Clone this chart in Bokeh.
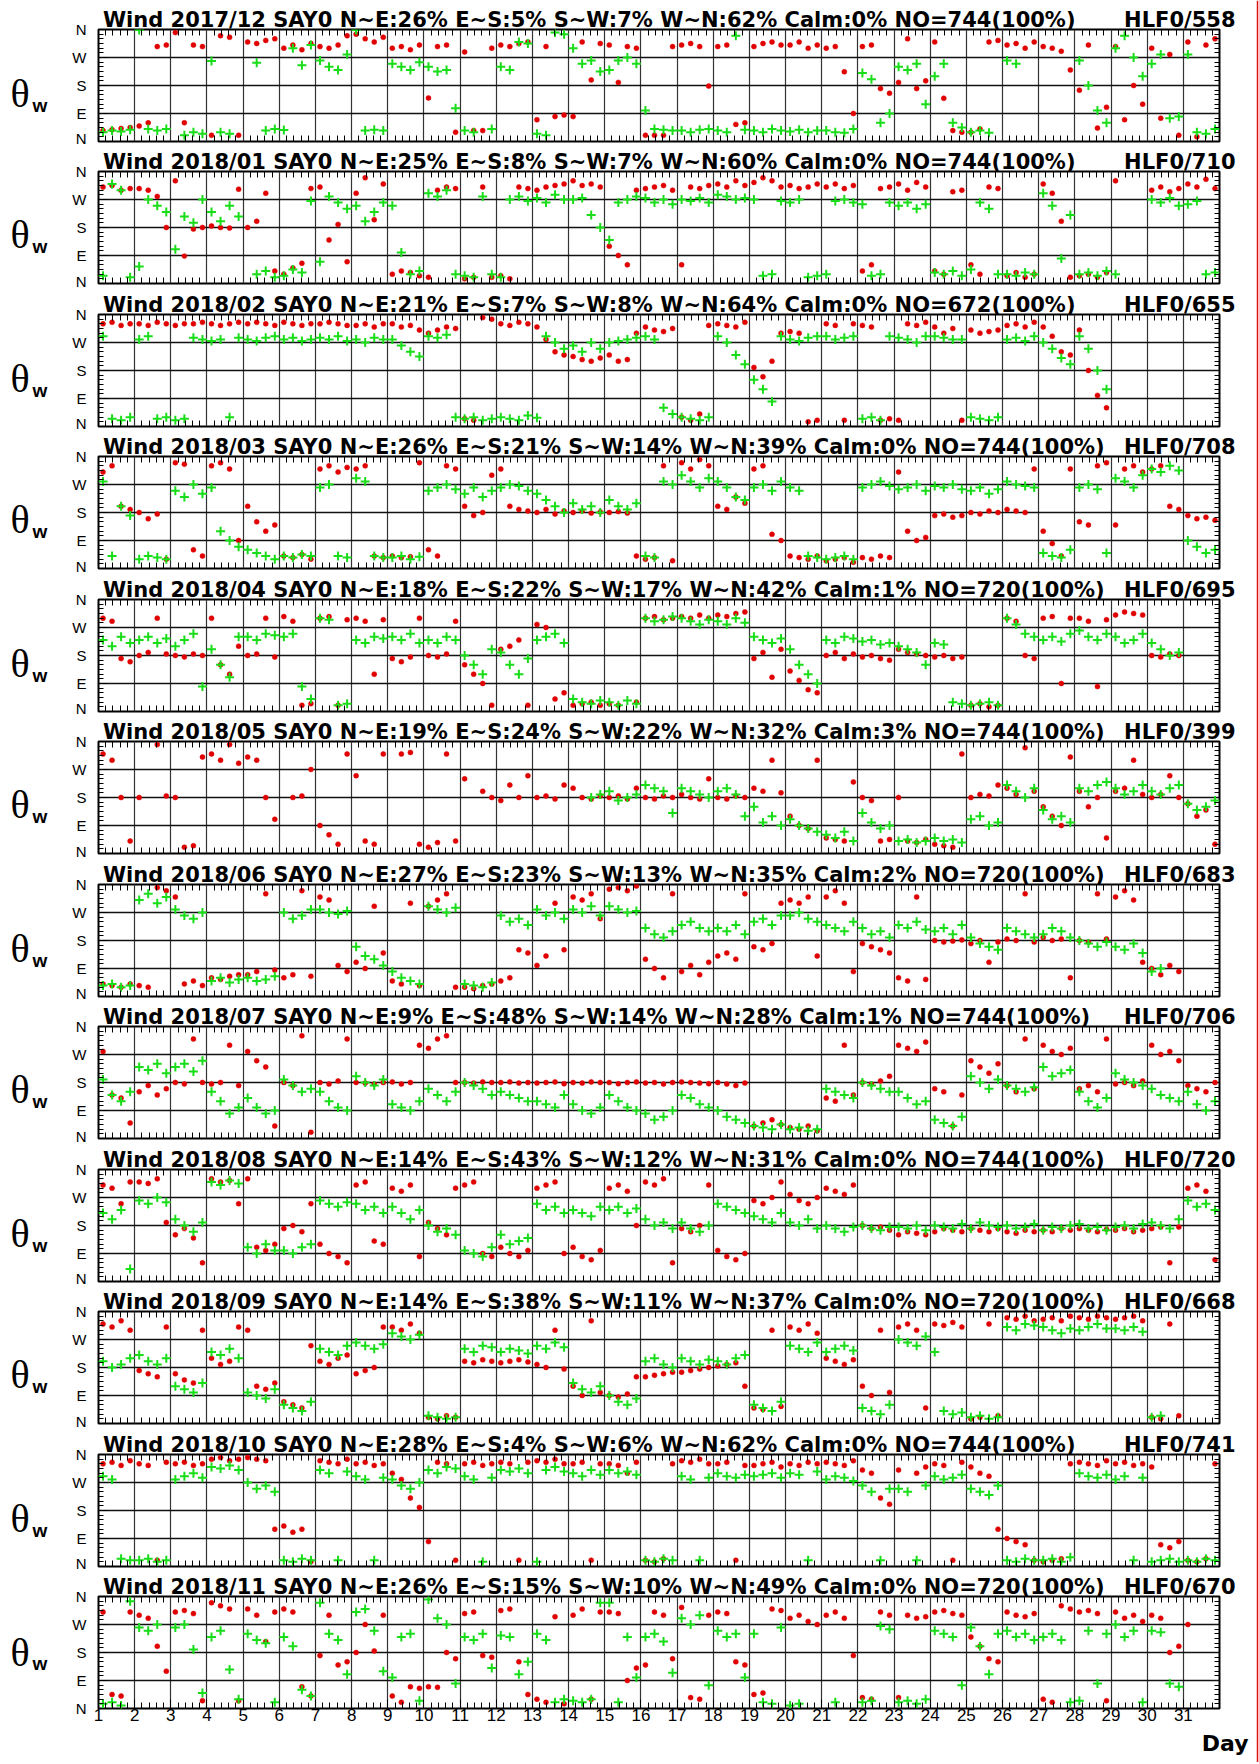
import numpy as np
from bokeh.plotting import figure
from bokeh.models import Range1d, FixedTicker, Spacer, LinearAxis
from bokeh.layouts import column, row
from bokeh.embed import file_html
from bokeh.resources import INLINE
from bokeh.core.properties import value

_ = None

MONTHS = ["2017/12", "2018/01", "2018/02", "2018/03", "2018/04", "2018/05",
          "2018/06", "2018/07", "2018/08", "2018/09", "2018/10", "2018/11"]
NE = [26, 25, 21, 26, 18, 19, 27, 9, 14, 14, 28, 26]
ES = [5, 8, 7, 21, 22, 24, 23, 48, 43, 38, 4, 15]
SW = [7, 7, 8, 14, 17, 22, 13, 14, 12, 11, 6, 10]
WN = [62, 60, 64, 39, 42, 32, 35, 28, 31, 37, 62, 49]
CALM = [0, 0, 0, 0, 1, 3, 2, 1, 0, 0, 0, 0]
NO = [744, 744, 672, 744, 720, 744, 720, 744, 744, 720, 744, 720]
HLF = [558, 710, 655, 708, 695, 399, 683, 706, 720, 668, 741, 670]

DAYS = list(range(1, 32))
HOURS = [3, 9, 15, 21]
DIR_TICKS = [0, 90, 180, 270, 360]
DIR_LABELS = ["N", "E", "S", "W", "N"]
QUADRANTS = [90, 180, 270]

# wind direction (deg), 4 readings per day, red series / green series
R_1712 = [35,38,42,45, 50,60,305,310, 350,60,310,305, 20,340,335,20, 320,315,325,330, 300,310,295,315, 305,300,310,340, 345,330,320,335,
          300,305,295,310, 140,305,310,30, 288,35,35,300, 310,305,315,320, 70,305,80,85, 80,320,198,315, 310,190,305,300, 20,20,20,305,
          310,315,305,178, 305,310,55,60, 305,315,320,310, 310,320,300,310, 300,305,224,90, 305,310,170,155, 190,330,170,195, 320,139,35,30,
          30,40,320,325, 310,315,300,320, 305,300,290,230, 165,310,43,110, 305,70,180,120, 300,75,280,20, 320,15,310,330]
G_1712 = [30,35,32,38, 358,40,35,40, _,20,30,25, 259,30,25,_, _,253,35,40, 37,300,245,310, 260,240,230,280, 358,35,38,35,
          250,240,230,255, 240,225,230,107, 35,30,_,40, 240,230,320,315, 25,20,350,345, 300,250,260,225, 230,260,270,250, 100,40,38,35,
          35,30,38,40, 35,30,340,38, 35,30,40,35, 32,38,30,35, 35,30,28,40, 220,200,60,90, 240,230,250,120, 210,250,60,45,
          30,35,28,_, 260,250,_,_, _,_,_,_, 260,180,100,60, 300,340,270,210, 250,280,75,80, 280,30,25,40]

R_1801 = [310,315,300,305, 305,300,280,180, 330,88,175,180, 185,180,178,303, 180,200,290,40, 30,50,65,305, 310,140,190,70, 290,340,205,320,
          30,40,35,25, 20,300,310,305, 15,20,310,20, 25,15,310,305, 300,310,315,320, 330,315,320,310, 120,90,60,300, 305,310,315,300,
          60,310,305,315, 320,310,330,315, 325,340,330,310, 315,305,310,320, 310,320,305,315, 40,60,305,310, 320,300,325,310, 40,30,295,300,
          60,30,310,305, 25,35,20,30, 320,290,200,20, 25,30,20,35, 330,_,_,_, 300,310,295,305, 320,310,335,305]
G_1801 = [25,320,300,20, 55,270,250,230, 110,215,195,270, 230,200,250,215, _,30,40,20, 25,45,35,265, 70,280,260,240, 250,200,230,260,
          250,100,30,40, 290,280,300,30, 25,20,280,30, 20,270,280,265, 275,260,285,270, 270,275,220,180, 140,260,270,280, 275,260,270,255,
          270,265,275,260, 285,280,270,275, 270,25,30,265, 260,270,20,25, 30,265,270,260, 255,25,30,260, 250,260,240,255, 35,30,40,25,
          45,260,240,30, 30,25,35,30, 290,250,80,220, 30,35,25,40, 30,_,_,_, 270,260,275,250, 255,265,30,35]

R_1802 = [330,335,325,330, 330,325,335,330, 325,330,330,335, 330,325,330,335, 330,335,330,325, 335,330,325,330, 330,335,330,325, 325,330,320,330,
          330,320,325,310, 300,310,320,315, 25,20,350,345, 330,325,335,330, 320,280,240,230, 225,215,210,220, 230,210,215,300, 320,310,305,315,
          30,20,40,325, 330,325,320,335, 190,160,210,300, 305,300,15,20, 330,325,20,330, 325,320,20,25, 20,330,325,335, 320,300,315,20,
          310,300,305,310, 325,330,320,335, 320,290,240,230, 310,180,100,60, _,_,_,_, _,_,_,_, _,_,_,_]
G_1802 = [290,25,20,30, 280,290,25,30, 20,25,285,280, 275,280,30,285, 280,275,285,290, 280,285,275,280, 285,280,290,275, 280,270,285,280,
          280,260,240,225, 290,285,295,30, 25,30,20,25, 30,25,20,35, 28,290,270,250, 260,240,270,250, 270,275,280,285, 290,280,60,40,
          30,25,20,30, 290,270,230,200, 150,120,80,290, 280,275,285,290, 290,280,285,290, 25,30,20,290, 285,280,270,290, 290,285,280,280,
          30,25,20,30, 280,285,275,290, 270,250,220,200, 290,250,180,120, _,_,_,_, _,_,_,_, _,_,_,_]

R_1803 = [310,330,200,190, 180,160,175,30, 340,335,60,40, 330,340,320,90, 200,150,120,140, 40,35,45,30, 320,330,310,325, 320,330,40,35,
          40,35,38,340, 60,40,330,320, 200,170,180,300, 320,200,190,185, 180,190,175,185, 180,185,178,182, 180,183,178,40, 30,35,330,25,
          340,320,350,330, 200,190,230,210, 320,330,110,90, 40,35,30,40, 25,30,35,20, 35,30,40,35, 310,120,90,100, 170,175,165,170,
          180,175,185,180, 190,185,180,320, 120,80,40,320, 150,140,330,340, 140,320,330,310, 320,330,200,190, 170,160,165,155]
G_1803 = [280,40,200,170, 30,40,35,30, 250,230,270,240, 260,120,90,70, 60,50,40,30, 40,35,45,40, 260,270,40,35, 290,280,40,35,
          35,40,30,38, 250,260,270,255, 240,260,230,250, 260,270,265,250, 240,220,200,180, 210,190,200,180, 220,200,190,210, 40,35,280,270,
          300,280,260,290, 280,260,230,220, 260,270,250,280, 260,250,40,35, 30,35,40,30, 260,270,280,265, 255,260,270,250, 265,260,270,255,
          250,260,240,255, 280,270,265,260, 50,40,35,60, 260,270,255,50, 290,280,260,300, 320,310,330,315, 90,70,50,60]

R_1804 = [300,290,170,160, 180,190,300,185, 180,175,185,180, 300,150,120,210, 180,185,300,175, 305,290,20,25, 300,305,20,295, 300,290,120,295,
          170,160,175,300, 180,175,185,290, 150,120,90,20, 200,210,230,20, 280,270,40,60, 20,25,30,20, 25,20,_,30, 300,305,295,300,
          305,300,310,300, 310,305,315,320, 170,190,110,200, 130,100,70,60, 180,190,170,185, 175,180,170,165, 200,190,185,180, 175,180,170,175,
          20,25,15,20, 300,290,180,170, 300,305,90,300, 300,290,80,295, 310,320,315,310, 180,175,185,180, _,_,_,_]
G_1804 = [230,210,240,220, 230,240,220,235, 210,230,250,80, 200,150,110,240, 240,230,250,245, 240,250,80,40, 300,295,20,25, 230,220,240,235,
          240,230,250,220, 230,220,240,230, 180,150,120,200, 190,150,120,170, 230,240,250,220, 40,30,25,35, 30,20,35,25, 300,290,295,305,
          300,290,280,295, 290,280,300,285, 240,230,220,235, 200,150,120,90, 230,220,240,235, 225,230,215,220, 210,200,190,150, 220,215,30,25,
          20,25,30,20, 300,280,250,240, 230,240,225,250, 260,240,230,250, 240,220,230,250, 220,200,180,190, _,_,_,_]

R_1805 = [320,300,180,40, 180,_,350,185, 180,20,25,310, 320,300,350,290, 310,300,180,110, _,180,185,270, 90,60,30,320, 250,40,30,320,
          _,320,325,30, 20,35,320,40, 240,_,200,180, 170,220,180,250, 180,185,175,220, 210,180,175,185, 180,185,175,210, 180,175,185,180,
          190,180,175,240, 180,175,185,180, 210,200,300,195, 120,90,80,300, 50,45,40,230, 180,170,40,45, 180,40,35,45, 30,25,20,320,
          180,190,185,220, 210,190,340,200, 150,120,90,310, 200,150,180,50, 200,210,300,190, 180,190,250,180, 160,120,140,30]
G_1805 = [_,_,_,_, _,_,_,_, _,_,_,_, _,_,_,_, _,_,_,_, _,_,_,_, _,_,_,_, _,_,_,_,
          _,_,_,_, _,_,_,_, _,_,_,_, _,_,_,_, _,_,_,_, _,_,180,190, 200,170,180,190, 220,210,200,130,
          210,200,190,180, 200,210,190,120, 150,100,120,90, 110,90,80,70, 60,50,70,40, 130,100,80,90, 40,45,35,40, 50,40,45,35,
          110,120,90,100, 220,200,180,210, 140,110,120,100, 210,200,220,230, 210,190,200,220, 200,190,210,220, 160,140,150,170]

R_1806 = [40,35,30,40, 35,30,350,340, 320,40,50,35, 60,55,65,70, 70,80,330,85, 60,70,340,65, 320,310,100,80, 110,90,290,140,
          50,40,300,35, 290,310,330,30, 30,25,35,40, 50,60,150,140, 100,130,300,150, 320,310,330,250, 345,350,340,355, 120,90,60,330,
          80,100,70,110, 130,140,120,330, 160,150,170,300, 310,300,320,130, 320,340,300,80, 170,160,150,140, 60,50,320,55, 180,175,178,182,
          170,180,110,175, 185,180,330,175, 190,180,185,60, 180,175,330,185, 320,340,310,110, 90,70,100,80, _,_,_,_]
G_1806 = [35,40,30,35, 310,330,300,320, 280,260,250,270, 50,60,45,55, 60,50,55,65, 270,250,260,280, 280,270,265,275, 160,130,120,100,
          80,60,50,40, 290,280,270,285, 40,35,30,45, 260,240,250,230, 280,260,270,250, 280,270,290,260, 290,280,270,275, 220,200,190,210,
          230,240,220,210, 220,210,230,200, 240,250,230,260, 260,270,250,240, 230,220,210,240, 220,200,210,190, 230,220,240,215, 210,220,200,230,
          190,170,160,150, 220,210,200,190, 200,220,210,190, 180,170,160,175, 160,150,170,140, 80,90,_,_, _,_,_,_]

R_1807 = [280,140,130,50, 150,170,140,160, 180,175,320,180, 175,180,300,170, 280,250,230,40, 180,170,330,20, 180,175,185,320, 180,178,175,180,
          182,175,180,300, 290,320,330,180, 180,178,182,180, 180,182,178,180, 178,180,182,176, 180,178,182,180, 180,176,180,182, 178,180,175,180,
          182,180,178,176, 180,175,170,178, 40,50,60,45, 35,30,40,25, 130,120,300,140, 180,175,185,200, 300,290,280,310, 160,150,40,140,
          250,230,210,240, 170,150,320,160, 300,280,270,290, 160,170,150,320, 175,180,170,185, 300,270,280,250, 170,160,150,180]
G_1807 = [190,140,120,150, 230,220,240,210, 230,240,215,250, 150,120,80,100, 130,100,80,90, 190,170,150,160, 150,120,100,90, 200,180,170,190,
          110,100,90,120, 160,140,120,150, 180,170,160,140, 150,140,130,120, 120,110,100,140, 110,90,80,100, 140,120,100,90, 80,60,70,90,
          140,130,110,100, 90,70,60,50, 40,35,30,45, 30,35,25,30, 160,150,140,130, 180,170,160,150, 150,130,110,120, 60,50,40,70,
          200,180,160,190, 170,160,150,165, 230,200,210,220, 150,120,100,130, 210,190,180,170, 160,140,130,120, 150,110,90,120]

R_1808 = [310,300,250,320, 320,315,330,190, 150,170,140,60, 330,320,325,250, 330,110,100,120, 170,180,160,250, 120,90,80,60, 310,320,130,120,
          300,290,310,80, 190,170,150,300, 310,320,90,80, 110,90,80,100, 300,310,320,90, 110,80,70,100, 300,310,290,180, 320,310,330,60,
          170,160,180,310, 100,80,70,90, 260,250,270,320, 280,260,250,270, 300,290,280,310, 180,170,175,165, 150,160,155,150, 160,170,165,160,
          170,165,160,170, 160,155,165,160, 165,160,170,165, 170,165,160,168, 165,170,160,165, 170,175,60,175, 300,310,290,70]
G_1808 = [220,200,230,40, 260,250,270,255, 200,180,160,190, 320,310,325,315, 110,90,120,100, 100,90,110,120, 260,250,240,255, 250,230,240,220,
          240,220,200,230, 180,160,170,150, 100,90,80,110, 150,120,130,140, 250,230,240,220, 230,220,210,240, 230,240,220,235, 200,180,190,170,
          190,170,160,180, 250,240,230,220, 210,200,190,220, 190,180,200,170, 180,170,160,175, 180,170,165,175, 175,170,180,165, 180,175,170,185,
          170,190,180,175, 180,170,175,185, 165,175,170,180, 185,170,175,165, 175,180,170,185, 190,180,170,200, 260,240,250,230]

R_1809 = [320,310,330,300, 170,160,150,310, 160,140,130,300, 210,190,200,310, 300,120,110,130, 70,60,50,250, 200,190,210,220, 160,170,180,310,
          310,300,320,290, 20,15,25,20, 200,195,205,200, 195,200,205,198, 190,180,300,175, 120,90,330,100, 90,85,95,150, 150,155,160,165,
          165,170,175,180, 185,190,195,120, 50,45,300,55, 310,300,320,290, 210,200,190,205, 120,90,300,100, 310,320,300,50, 320,315,325,310,
          15,20,320,25, 340,335,345,330, 335,340,330,345, 340,335,345,340, 335,340,345,330, 20,15,320,25, _,_,_,_]
G_1809 = [200,180,190,210, 220,200,190,210, 120,110,100,130, 230,220,240,210, 100,90,80,110, 60,50,40,70, 240,230,220,250, 260,250,240,255,
          290,280,270,285, 25,20,15,20, 240,230,250,245, 230,240,235,225, 250,240,260,245, 130,110,100,120, 90,70,60,80, 200,210,190,180,
          210,200,190,205, 200,190,210,220, 60,50,40,70, 250,240,230,260, 230,240,250,235, 50,40,30,60, 270,260,250,280, 230,40,30,35,
          20,25,15,20, 310,300,320,315, 310,300,290,305, 300,310,320,305, 305,300,310,295, 20,25,_,_, _,_,_,_]

R_1810 = [330,335,325,340, 330,325,20,335, 330,335,325,330, 345,350,340,345, 350,345,340,120, 130,110,120,15, 340,335,330,345, 330,335,325,330,
          300,280,220,190, 80,335,330,20, 330,335,325,330, 335,330,20,335, 340,335,345,330, 330,335,20,330, 330,325,300,335, 20,15,25,330,
          340,335,345,330, 330,335,20,325, 325,330,335,320, 330,325,335,330, 335,330,325,340, 310,300,220,200, 310,_,300,320, 330,325,20,335,
          320,300,290,120, 90,80,70,20, 15,20,25,330, 335,330,325,340, 330,335,325,330, 320,70,60,80, 20,15,25,330]
G_1810 = [290,280,25,20, 20,25,15,20, 280,290,300,285, 320,315,325,310, 270,250,260,240, 20,15,25,20, 310,300,20,305, 290,280,20,285,
          280,260,250,270, 310,300,320,315, 290,280,15,285, 310,305,315,300, 15,310,320,305, 300,290,310,295, 310,300,305,295, 20,15,25,20,
          290,280,20,285, 300,290,285,295, 290,295,300,285, 300,295,20,305, 280,290,285,275, 260,240,20,250, 250,240,20,260, 290,280,285,295,
          250,240,230,260, 20,15,25,20, 20,25,15,30, 300,290,285,295, 280,290,20,285, 15,20,25,15, 20,15,25,20]

R_1811 = [310,45,40,310, 300,290,200,120, 310,315,305,25, 340,330,320,25, 320,300,215,310, 320,310,70,40, 170,300,140,150, 180,270,185,300,
          40,20,70,65, 70,68,180,160, 305,310,170,165, 315,320,150,45, 30,20,295,15, 300,320,30,310, 310,305,90,130, 140,310,300,160,
          325,35,30,300, 310,305,150,140, 45,50,320,315, 290,300,280,270, 300,310,290,170, 35,30,310,300, 35,300,290,295, 310,315,305,300,
          230,200,160,150, 310,300,295,305, 30,20,330,320, 310,315,305,25, 310,290,300,280, 300,290,180,200, 270,_,_,_]
G_1811 = [15,20,10,345, 260,250,270,_, 260,270,190,50, 230,250,125,30, 240,220,210,20, 230,200,60,40, 340,240,220,110, 310,320,250,120,
          100,230,240,25, 350,290,270,80, 230,220,240,130, 235,230,110,150, 240,220,20,30, 25,20,30,340, 340,20,230,100, 230,240,215,115,
          290,270,300,75, 250,230,240,100, 240,20,15,260, 10,15,_,_, _,20,_,_, 20,25,265,255, 20,25,15,30, 250,240,230,75,
          260,200,110,240, 250,230,240,220, 230,240,220,20, 25,250,80,240, 270,230,250,20, 250,245,80,70, _,_,_,_]

RED_SERIES = [R_1712, R_1801, R_1802, R_1803, R_1804, R_1805, R_1806, R_1807, R_1808, R_1809, R_1810, R_1811]
GREEN_SERIES = [G_1712, G_1801, G_1802, G_1803, G_1804, G_1805, G_1806, G_1807, G_1808, G_1809, G_1810, G_1811]

RED = "#e10000"
GREEN = "#19dd19"

T = [d + h / 24.0 for d in DAYS for h in HOURS]


def pts(vals):
    xs = [x for x, v in zip(T, vals) if v is not None]
    ys = [v for v in vals if v is not None]
    return xs, ys


# ---- geometry (pixels) ----
PAD_TOP = 4
PAD = 8
FRAME_H = 112
TOP_B = 25
PX_DAY = 1121 / 31.0
THETA_W = 48 + PAD
LEFT_B = 42
RIGHT_B = 31
PANEL_W = LEFT_B + 1121 + RIGHT_B

x_minor = [d + k / 5.0 for d in DAYS for k in range(1, 5)]
y_minor = [m for m in range(15, 360, 15) if m % 90]

FONT = "Liberation Sans"
TFONT = "DejaVu Sans"
TSIZE = 21

# approximate advance widths (em) of DejaVu Sans Bold, used to place the title labels
EM = {" ": 0.348, "%": 1.002, "(": 0.457, ")": 0.457, "/": 0.365, ":": 0.4, "=": 0.838,
      "~": 0.838, "A": 0.774, "C": 0.734, "E": 0.683, "F": 0.683, "H": 0.837, "L": 0.637,
      "N": 0.837, "O": 0.85, "S": 0.72, "W": 1.03, "Y": 0.724, "a": 0.675, "d": 0.716,
      "i": 0.343, "l": 0.343, "m": 1.042, "n": 0.712}


def text_w(s):
    s = " ".join(s.split())
    return sum(EM.get(c, 0.696) for c in s) * TSIZE


def day_of_px(px):   # page pixel -> day coordinate
    return 1 + (px - 98) / PX_DAY


def axis_style(ax, major_in, minor_in):
    ax.axis_line_color = None
    ax.major_tick_in = major_in
    ax.major_tick_out = 0
    ax.minor_tick_in = minor_in
    ax.minor_tick_out = 0
    ax.major_tick_line_color = "black"
    ax.minor_tick_line_color = "black"
    ax.major_label_text_color = "black"


rows = [Spacer(width=10, height=PAD_TOP)]
total_h = PAD_TOP
for i in range(12):
    last = i == 11
    bot = 24 if last else (5 if i % 2 == 0 else 6)
    H = TOP_B + FRAME_H + bot
    total_h += H

    # theta_w label figure
    th = figure(width=THETA_W, height=H, x_range=Range1d(0, THETA_W), y_range=Range1d(0, H),
                x_axis_type=None, y_axis_type=None, output_backend="svg", toolbar_location=None,
                min_border_left=0, min_border_right=0, min_border_top=0, min_border_bottom=0)
    th.outline_line_color = None
    th.text(x=[PAD + 2], y=[bot + 56], text=["\u03b8"], text_font=value("Liberation Serif"),
            text_font_size="40px", text_align="left", text_baseline="alphabetic", text_color="black")
    th.text(x=[PAD + 24], y=[bot + 41], text=["w"], text_font=value(FONT), text_font_style="bold",
            text_font_size="19px", text_align="left", text_baseline="alphabetic", text_color="black")

    p = figure(width=PANEL_W, height=H, x_range=Range1d(1, 32), y_range=Range1d(0, 360),
               output_backend="svg", toolbar_location=None,
               min_border_left=LEFT_B, min_border_right=RIGHT_B, min_border_top=TOP_B,
               min_border_bottom=bot)
    p.outline_line_color = "black"
    p.outline_line_width = 2
    p.background_fill_color = "white"
    p.border_fill_color = "white"

    # grids
    p.xgrid.ticker = FixedTicker(ticks=DAYS)
    p.xgrid.grid_line_color = "#333333"
    p.xgrid.grid_line_width = 1.2
    p.ygrid.ticker = FixedTicker(ticks=QUADRANTS)
    p.ygrid.grid_line_color = "#111111"
    p.ygrid.grid_line_width = 1.5

    # bottom axis
    xax = p.xaxis[0]
    xax.ticker = FixedTicker(ticks=DAYS if last else [], minor_ticks=x_minor)
    axis_style(xax, 9, 6)
    xax.major_label_text_font = FONT
    xax.major_label_text_font_size = "17px"
    xax.major_label_standoff = 0

    # left axis
    yax = p.yaxis[0]
    yax.ticker = FixedTicker(ticks=DIR_TICKS, minor_ticks=y_minor)
    yax.major_label_overrides = {t: l for t, l in zip(DIR_TICKS, DIR_LABELS)}
    axis_style(yax, 9, 5)
    yax.major_label_text_font = FONT
    yax.major_label_text_font_size = "15px"
    yax.major_label_standoff = 12

    # right axis (inward ticks only)
    rax = LinearAxis(ticker=FixedTicker(ticks=[], minor_ticks=y_minor))
    axis_style(rax, 9, 5)
    p.add_layout(rax, "right")

    # top axis: inward ticks, carrying the panel title and the HLF count
    title = (f"Wind {MONTHS[i]} SAY0 N~E:{NE[i]}% E~S:{ES[i]}% S~W:{SW[i]}% "
             f"W~N:{WN[i]}% Calm:{CALM[i]}%  NO={NO[i]}(100%)")
    hlf = f"HLF0/{HLF[i]}"
    xt = round(day_of_px(107 + text_w(title) / 2), 4)
    xh = round(day_of_px(1235 - text_w(hlf) / 2), 4)
    tax = LinearAxis(ticker=FixedTicker(ticks=[xt, xh], minor_ticks=x_minor))
    axis_style(tax, 0, 6)
    tax.major_label_overrides = {xt: title, xh: hlf}
    tax.major_label_text_font = TFONT
    tax.major_label_text_font_style = "bold"
    tax.major_label_text_font_size = f"{TSIZE}px"
    tax.major_label_standoff = -2
    p.add_layout(tax, "above")

    xr, yr = pts(RED_SERIES[i])
    xg, yg = pts(GREEN_SERIES[i])
    p.scatter(xr, yr, marker="circle", size=5, fill_color=RED, line_color=RED, line_width=0.5)
    p.scatter(xg, yg, marker="cross", size=9, line_color=GREEN, line_width=2)

    rows.append(row(th, p, spacing=0))

DAY_H = 30
total_h += DAY_H
day = figure(width=THETA_W + PANEL_W, height=DAY_H, x_range=Range1d(0, THETA_W + PANEL_W),
             y_range=Range1d(0, DAY_H), x_axis_type=None, y_axis_type=None, output_backend="svg",
             toolbar_location=None, min_border_left=0, min_border_right=0, min_border_top=0,
             min_border_bottom=0)
day.outline_line_color = None
day.text(x=[PAD + 1240], y=[19], text=["Day"], text_font=value(TFONT), text_font_style="bold",
         text_font_size="22px", text_align="right", text_baseline="alphabetic", text_color="black")
rows.append(day)

# thin red page border at the right edge
EDGE_W = 9
edge = figure(width=EDGE_W, height=total_h, x_range=Range1d(0, EDGE_W), y_range=Range1d(0, total_h),
              x_axis_type=None, y_axis_type=None, output_backend="svg", toolbar_location=None,
              min_border_left=0, min_border_right=0, min_border_top=0, min_border_bottom=0)
edge.outline_line_color = None
edge.segment(x0=7, y0=0, x1=7, y1=total_h, line_color="#dd1111", line_width=1.5)

layout = row(column(*rows, spacing=0), edge, spacing=0)
open("out.html", "w").write(file_html(layout, INLINE))
